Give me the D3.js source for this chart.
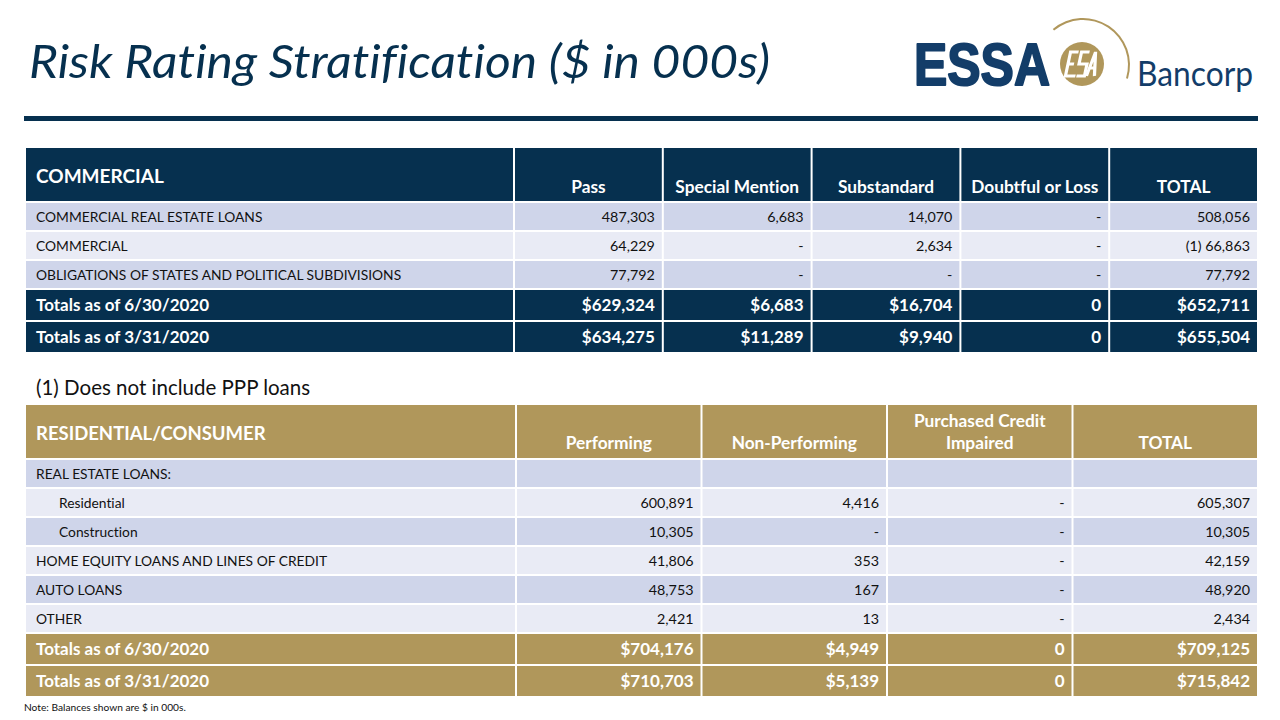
<!DOCTYPE html>
<html><head><meta charset="utf-8">
<script src="https://cdnjs.cloudflare.com/ajax/libs/d3/7.8.5/d3.min.js"></script>
<style>body{margin:0;background:#fff}svg{display:block}text{font-variant-ligatures:none;font-feature-settings:"liga" 0}</style>
</head><body>
<script>
// ---------- data ----------
const pageTitle = "Risk Rating Stratification ($ in 000s)";

const commTitle = "COMMERCIAL";
const commColumns = ["Pass", "Special Mention", "Substandard", "Doubtful or Loss", "TOTAL"];
const commCategories = ["COMMERCIAL REAL ESTATE LOANS", "COMMERCIAL", "OBLIGATIONS OF STATES AND POLITICAL SUBDIVISIONS"];
const commValues = [
  [487303, 6683, 14070, null, 508056],
  [64229, null, 2634, null, 66863],
  [77792, null, null, null, 77792]
];
const commNotes = [
  ["", "", "", "", ""],
  ["", "", "", "", "(1) "],
  ["", "", "", "", ""]
];
const commTotalLabels = ["Totals as of 6/30/2020", "Totals as of 3/31/2020"];
const commTotals = [
  [629324, 6683, 16704, 0, 652711],
  [634275, 11289, 9940, 0, 655504]
];

const footnoteText = "(1) Does not include PPP loans";

const resTitle = "RESIDENTIAL/CONSUMER";
const resColumns = ["Performing", "Non-Performing", "Purchased Credit\nImpaired", "TOTAL"];
const resCategories = ["REAL ESTATE LOANS:", "Residential", "Construction", "HOME EQUITY LOANS AND LINES OF CREDIT", "AUTO LOANS", "OTHER"];
const resIndented = [false, true, true, false, false, false];
const resValues = [
  [undefined, undefined, undefined, undefined],
  [600891, 4416, null, 605307],
  [10305, null, null, 10305],
  [41806, 353, null, 42159],
  [48753, 167, null, 48920],
  [2421, 13, null, 2434]
];
const resTotalLabels = ["Totals as of 6/30/2020", "Totals as of 3/31/2020"];
const resTotals = [
  [704176, 4949, 0, 709125],
  [710703, 5139, 0, 715842]
];

const noteText = "Note: Balances shown are $ in 000s.";

// ---------- style ----------
const NAVY = "#06304f";
const GOLD = "#b0975b";
const ROW_A = "#cfd5ea";
const ROW_B = "#e9ebf5";
const LOGO_NAVY = "#133d69";
const FONT = "Lato, 'Open Sans', sans-serif";

const W = 1280, H = 720;
const svg = d3.select("body").append("svg").attr("width", W).attr("height", H);

// ---------- title ----------
svg.append("text")
  .attr("x", 29).attr("y", 78)
  .attr("font-family", FONT).attr("font-style", "italic").attr("font-size", 47)
  .attr("fill", NAVY)
  .attr("textLength", 741).attr("lengthAdjust", "spacingAndGlyphs")
  .text(pageTitle);

svg.append("rect").attr("x", 24).attr("y", 116).attr("width", 1234).attr("height", 5).attr("fill", NAVY);

// ---------- logo ----------
const logo = svg.append("g");
logo.append("text").attr("x", 914).attr("y", 85)
  .attr("font-family", "'Liberation Sans', Arial, sans-serif").attr("font-weight", 700)
  .attr("font-size", 59).attr("fill", LOGO_NAVY)
  .attr("stroke", LOGO_NAVY).attr("stroke-width", 2).attr("stroke-linejoin", "round")
  .attr("textLength", 136).attr("lengthAdjust", "spacingAndGlyphs")
  .text("ESSA");
logo.append("circle").attr("cx", 1082).attr("cy", 64).attr("r", 22).attr("fill", GOLD);
// medallion mark (graphic, drawn as white strokes)
const mark = logo.append("g")
  .attr("transform", "translate(1082,64) skewX(-12)")
  .attr("fill", "none").attr("stroke", "#fff").attr("stroke-width", 3.2)
  .attr("stroke-linejoin", "miter").attr("stroke-linecap", "butt");
mark.append("path").attr("d", "M-6,-12 H-14 V12 H-4 M-14,0 H-8");
mark.append("path").attr("d", "M5,-12 H-3 V0 H5 V12 H-3");
mark.append("path").attr("d", "M7,12 L11,-12 L15,12 M8.5,4 H13.5");
logo.append("path")
  .attr("transform", "translate(1083,65)")
  .attr("d", d3.arc().innerRadius(45).outerRadius(47)
    .startAngle(-40 * Math.PI / 180).endAngle(107 * Math.PI / 180)())
  .attr("fill", GOLD);
logo.append("text").attr("x", 1137).attr("y", 86)
  .attr("font-family", FONT).attr("font-size", 35).attr("fill", LOGO_NAVY)
  .attr("textLength", 116).attr("lengthAdjust", "spacingAndGlyphs")
  .text("Bancorp");

// ---------- table drawing ----------
const fmtNum = d3.format(",");
const fmtTot = v => v === 0 ? "0" : "$" + d3.format(",")(v);
const fmtCell = v => v === undefined ? "" : (v === null ? "-" : fmtNum(v));

function drawTable(cfg) {
  const g = svg.append("g");
  const x = d3.scaleBand().domain(cfg.columns).range([cfg.labelRight, cfg.right]);
  const yRows = d3.scaleBand().domain(cfg.categories)
    .range([cfg.top + cfg.headerH, cfg.top + cfg.headerH + cfg.rowH * cfg.categories.length]);
  const totTop = cfg.top + cfg.headerH + cfg.rowH * cfg.categories.length;
  const yTot = d3.scaleBand().domain(cfg.totalLabels)
    .range([totTop, totTop + cfg.totH * cfg.totalLabels.length]);
  const gap = 1;

  const cell = (x0, x1, y0, y1, fill) => g.append("rect")
    .attr("x", x0 + gap).attr("y", y0 + gap)
    .attr("width", x1 - x0 - 2 * gap).attr("height", y1 - y0 - 2 * gap).attr("fill", fill);

  // header
  const hTop = cfg.top, hBot = cfg.top + cfg.headerH;
  cell(cfg.left, cfg.labelRight, hTop, hBot, cfg.headColor);
  g.append("text").attr("x", cfg.left + 11).attr("y", cfg.titleY)
    .attr("font-family", FONT).attr("font-weight", 700).attr("font-size", cfg.titleSize)
    .attr("fill", "#fff").text(cfg.title);
  cfg.columns.forEach(c => {
    cell(x(c), x(c) + x.bandwidth(), hTop, hBot, cfg.headColor);
    const lines = c.split("\n");
    lines.forEach((ln, i) => {
      g.append("text")
        .attr("x", x(c) + x.bandwidth() / 2)
        .attr("y", cfg.colHeadY - (lines.length - 1 - i) * 22)
        .attr("text-anchor", "middle")
        .attr("font-family", FONT).attr("font-weight", 700).attr("font-size", 17.3)
        .attr("fill", "#fff").text(ln);
    });
  });

  // data rows
  cfg.categories.forEach((cat, r) => {
    const y0 = yRows(cat), y1 = y0 + yRows.bandwidth();
    const fill = r % 2 === 0 ? ROW_A : ROW_B;
    cell(cfg.left, cfg.labelRight, y0, y1, fill);
    g.append("text")
      .attr("x", cfg.left + (cfg.indent && cfg.indent[r] ? 34 : 11))
      .attr("y", (y0 + y1) / 2 + 5)
      .attr("font-family", FONT).attr("font-size", 13.8).attr("fill", "#111")
      .text(cat);
    cfg.columns.forEach((c, j) => {
      cell(x(c), x(c) + x.bandwidth(), y0, y1, fill);
      const note = cfg.notes ? cfg.notes[r][j] : "";
      g.append("text")
        .attr("x", x(c) + x.bandwidth() - 8)
        .attr("y", (y0 + y1) / 2 + 5)
        .attr("text-anchor", "end")
        .attr("font-family", FONT).attr("font-size", 14.3).attr("fill", "#111")
        .text(note + fmtCell(cfg.values[r][j]));
    });
  });

  // totals
  cfg.totalLabels.forEach((lab, r) => {
    const y0 = yTot(lab), y1 = y0 + yTot.bandwidth();
    cell(cfg.left, cfg.labelRight, y0, y1, cfg.headColor);
    g.append("text")
      .attr("x", cfg.left + 11).attr("y", (y0 + y1) / 2 + 6)
      .attr("font-family", FONT).attr("font-weight", 700).attr("font-size", 17)
      .attr("fill", "#fff").text(lab);
    cfg.columns.forEach((c, j) => {
      cell(x(c), x(c) + x.bandwidth(), y0, y1, cfg.headColor);
      g.append("text")
        .attr("x", x(c) + x.bandwidth() - 8).attr("y", (y0 + y1) / 2 + 6)
        .attr("text-anchor", "end")
        .attr("font-family", FONT).attr("font-weight", 700).attr("font-size", 17)
        .attr("fill", "#fff").text(fmtTot(cfg.totals[r][j]));
    });
  });
}

drawTable({
  title: commTitle, columns: commColumns, categories: commCategories,
  values: commValues, notes: commNotes, totalLabels: commTotalLabels, totals: commTotals,
  left: 25, labelRight: 514, right: 1258, top: 147, headerH: 55, rowH: 29, totH: 32,
  headColor: NAVY, titleY: 183, titleSize: 19, colHeadY: 193
});

svg.append("text").attr("x", 36).attr("y", 395)
  .attr("font-family", FONT).attr("font-size", 20.5).attr("fill", "#111")
  .text(footnoteText);

drawTable({
  title: resTitle, columns: resColumns, categories: resCategories, indent: resIndented,
  values: resValues, totalLabels: resTotalLabels, totals: resTotals,
  left: 25, labelRight: 516, right: 1258, top: 404, headerH: 55, rowH: 29, totH: 32,
  headColor: GOLD, titleY: 440, titleSize: 18.5, colHeadY: 449
});

svg.append("text").attr("x", 24).attr("y", 711)
  .attr("font-family", FONT).attr("font-size", 10.2).attr("fill", "#111")
  .text(noteText);
</script>
</body></html>
